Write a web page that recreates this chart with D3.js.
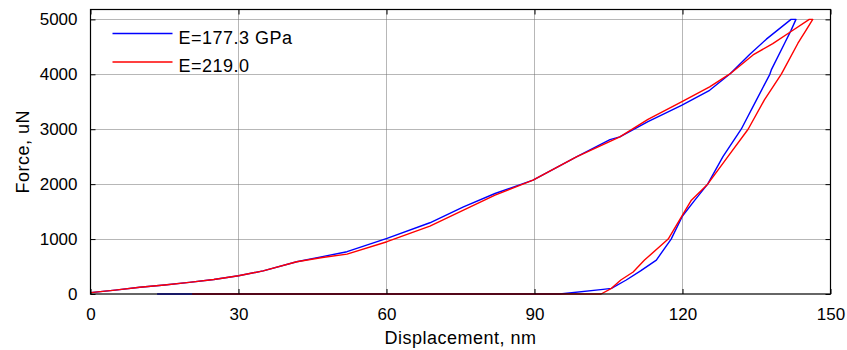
<!DOCTYPE html>
<html>
<head>
<meta charset="utf-8">
<script src="https://cdn.jsdelivr.net/npm/d3@7"></script>
<style>
  body { margin: 0; background: #fff; }
  text { font-family: "Liberation Sans", Arial, sans-serif; }
</style>
</head>
<body>
<svg id="chart" width="847" height="350"></svg>
<script>
// E=177.3 GPa, load then unload (displacement nm, force uN)
var blueDisp  = [0, 5, 10, 15, 20, 25, 30, 35, 41.8, 47, 52, 60.1, 68.8, 75.6, 82, 89.7, 98.5, 105.3, 107.3, 113, 119.8, 125.5, 129.6, 133.6, 137, 142, 143,
                 142, 140.7, 138, 137.7, 135, 131.9, 128.2, 125.1, 122.5, 120, 117.7, 114.7, 111.5, 108.6, 105.6, 103.9, 95.1, 13.5];
var blueForce = [25, 70, 122, 165, 212, 265, 333, 420, 588, 680, 770, 1012, 1297, 1588, 1830, 2073, 2497, 2812, 2861, 3140, 3436, 3709, 4007, 4360, 4640, 5000, 5000,
                 4800, 4566, 4080, 4000, 3534, 3000, 2500, 2000, 1709, 1420, 1000, 618, 420, 255, 103, 85, 0, 0];

// E=219.0
var redDisp  = [0, 5, 10, 15, 20, 25, 30, 35, 41.8, 47, 52, 60.1, 68.8, 75.6, 82, 89.7, 98.5, 107.3, 113, 119.8, 125.5, 129.6, 134.3, 138.3, 142, 145.7, 146.4,
                144.9, 143.4, 140.5, 140, 136.6, 133.3, 129.2, 125.1, 121.8, 117.1, 112.3, 110, 107.5, 105.6, 103.5, 20.6];
var redForce = [25, 70, 122, 165, 212, 265, 333, 420, 588, 665, 727, 952, 1236, 1527, 1800, 2073, 2497, 2861, 3180, 3497, 3770, 4007, 4353, 4558, 4780, 5000, 5000,
                4780, 4566, 4080, 4000, 3534, 3000, 2500, 2000, 1709, 1000, 618, 400, 255, 103, 0, 0];

var seriesNames = ["E=177.3 GPa", "E=219.0"];
var seriesColors = ["#0000ff", "#ff0000"];
var xTicks = [0, 30, 60, 90, 120, 150];
var yTicks = [0, 1000, 2000, 3000, 4000, 5000];

var margin = {top: 9.5, right: 16.5, bottom: 56, left: 90.5},
    width = 847 - margin.left - margin.right,
    height = 294 - margin.top;

var svg = d3.select("#chart");
var g = svg.append("g")
    .attr("transform", "translate(" + margin.left + "," + margin.top + ")");

var x = d3.scaleLinear().domain([0, 150]).range([0, width]);
var y = d3.scaleLinear().domain([0, 5180]).range([height, 0]);

// grid
g.append("g").selectAll("line")
    .data(xTicks.slice(1, -1))
  .enter().append("line")
    .attr("x1", function(d) { return Math.round(x(d)); })
    .attr("x2", function(d) { return Math.round(x(d)); })
    .attr("y1", 0).attr("y2", height)
    .attr("stroke", "#6e6e6e")
    .attr("stroke-dasharray", "1,1");

g.append("g").selectAll("line")
    .data(yTicks.slice(1))
  .enter().append("line")
    .attr("y1", function(d) { return Math.round(y(d)); })
    .attr("y2", function(d) { return Math.round(y(d)); })
    .attr("x1", 0).attr("x2", width)
    .attr("stroke", "#6e6e6e")
    .attr("stroke-dasharray", "1,1");

// curves
var line = d3.line()
    .x(function(d) { return x(d[0]); })
    .y(function(d) { return y(d[1]); });

var blueData = d3.zip(blueDisp, blueForce),
    redData = d3.zip(redDisp, redForce);

[blueData, redData].forEach(function(data, i) {
  g.append("path")
    .datum(data)
    .attr("fill", "none")
    .attr("stroke", seriesColors[i])
    .attr("stroke-width", 1.4)
    .attr("stroke-linejoin", "round")
    .attr("d", line);
});

// axes (MATLAB style: ticks inside, box on)
var tick = 5,
    fmt = d3.format("d");
g.append("g")
    .attr("transform", "translate(0," + height + ")")
    .call(d3.axisBottom(x).tickValues(xTicks).tickFormat(fmt).tickSizeInner(-tick).tickSizeOuter(0).tickPadding(14))
    .call(function(a) { a.select(".domain").remove(); });
g.append("g")
    .call(d3.axisTop(x).tickValues(xTicks).tickSizeInner(-tick).tickSizeOuter(0).tickFormat(""))
    .call(function(a) { a.select(".domain").remove(); });
g.append("g")
    .call(d3.axisLeft(y).tickValues(yTicks).tickFormat(fmt).tickSizeInner(-tick).tickSizeOuter(0).tickPadding(13))
    .call(function(a) { a.select(".domain").remove(); });
g.append("g")
    .attr("transform", "translate(" + width + ",0)")
    .call(d3.axisRight(y).tickValues(yTicks).tickSizeInner(-tick).tickSizeOuter(0).tickFormat(""))
    .call(function(a) { a.select(".domain").remove(); });

g.selectAll(".tick text")
    .attr("fill", "#000")
    .style("font-size", "17px")
    .style("font-family", "'Liberation Sans', Arial, sans-serif");
g.selectAll(".tick line").attr("stroke", "#000");

g.append("rect")
    .attr("width", width).attr("height", height)
    .attr("fill", "none")
    .attr("stroke", "#000")
    .attr("stroke-width", 1.2);

// axis labels
svg.append("text")
    .attr("x", margin.left + width / 2)
    .attr("y", 344)
    .attr("text-anchor", "middle")
    .style("font-size", "18px")
    .style("letter-spacing", "0.5px")
    .text("Displacement, nm");

svg.append("text")
    .attr("transform", "translate(29," + (margin.top + height / 2) + ") rotate(-90)")
    .attr("text-anchor", "middle")
    .style("font-size", "18px")
    .style("letter-spacing", "0.5px")
    .text("Force, uN");

// legend
var legend = g.selectAll(".legend")
    .data(seriesNames)
  .enter().append("g")
    .attr("class", "legend")
    .attr("transform", function(d, i) { return "translate(22," + (24 + i * 28.5) + ")"; });

legend.append("line")
    .attr("x1", 0).attr("x2", 60)
    .attr("stroke", function(d, i) { return seriesColors[i]; })
    .attr("stroke-width", 1.3);

legend.append("text")
    .attr("x", 66)
    .attr("y", 10)
    .style("font-size", "18px")
    .style("letter-spacing", "0.5px")
    .text(function(d) { return d; });
</script>
</body>
</html>
